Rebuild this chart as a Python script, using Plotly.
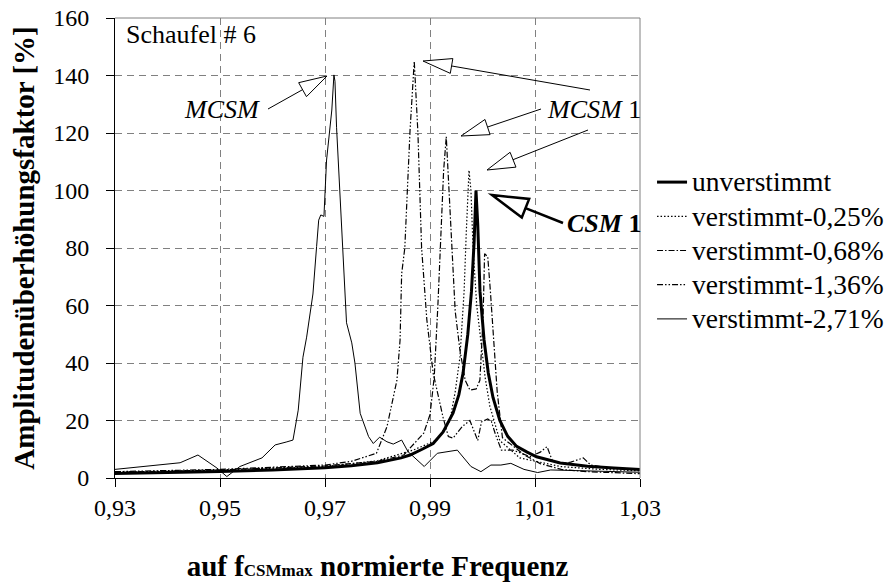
import math
import plotly.graph_objects as go

# Frequenz (auf f_CSMmax normiert) und Amplitudenüberhöhung [%]
x_unv = [0.930, 0.940, 0.950, 0.960, 0.970, 0.975, 0.980, 0.9845, 0.9862, 0.9885, 0.9906,
         0.9925, 0.9944, 0.9955, 0.9963, 0.9972, 0.9979, 0.9984, 0.99876, 0.9991, 0.99952,
         1.0003, 1.0011, 1.0020, 1.0033, 1.0048, 1.0065, 1.0085, 1.0103, 1.0148, 1.020,
         1.025, 1.030]
y_unv = [1.6, 1.9, 2.3, 2.8, 3.6, 4.3, 5.3, 7.0, 8.0, 10.0, 12.0,
         16.0, 22.6, 29.0, 36.5, 50.0, 65.0, 82.0, 100.0, 88.0, 65.0,
         48.0, 36.5, 28.0, 20.0, 14.5, 11.0, 9.0, 7.4, 5.2, 4.1,
         3.5, 3.0]

x_025 = [0.930, 0.950, 0.970, 0.980, 0.9868, 0.9913, 0.9938, 0.9948, 0.9957, 0.9965,
         0.9969, 0.99743, 0.9978, 0.9982, 0.9989, 0.9995, 1.0005, 1.0014, 1.0033, 1.0071,
         1.0148, 1.0224, 1.030]
y_025 = [2.0, 2.8, 4.0, 6.0, 9.7, 13.2, 20.0, 30.0, 42.0, 65.0,
         85.0, 107.0, 100.0, 80.0, 60.0, 50.0, 35.0, 25.0, 13.0, 7.0,
         4.0, 3.0, 2.5]

x_068 = [0.930, 0.950, 0.970, 0.980, 0.9850, 0.9888, 0.9900, 0.9908, 0.9915, 0.9921,
         0.9926, 0.9931, 0.9936, 0.9941, 0.9948, 0.9957, 0.9967, 0.9976, 0.9988, 0.9995,
         1.0001, 1.0004, 1.0010, 1.0015, 1.0022, 1.0028, 1.0038, 1.0058, 1.0080, 1.0110,
         1.0150, 1.0200, 1.0250, 1.030]
y_068 = [2.0, 2.8, 4.2, 5.8, 8.0, 15.6, 22.0, 35.0, 60.0, 85.0,
         107.0, 118.7, 100.0, 80.0, 58.0, 44.5, 34.0, 30.6, 31.0, 34.0,
         55.0, 78.0, 77.0, 65.0, 45.0, 30.0, 14.0, 11.0, 8.0, 5.0,
         3.0, 2.2, 1.8, 1.5]

x_136 = [0.930, 0.950, 0.970, 0.975, 0.9798, 0.9818, 0.9837, 0.9843, 0.9846, 0.9852,
         0.9862, 0.9870, 0.9877, 0.9884, 0.9894, 0.9906, 0.9925, 0.9935, 0.9944, 0.9962,
         0.9976, 0.9983, 0.9991, 0.9998, 1.0010, 1.0017, 1.0025, 1.0036, 1.0058, 1.0091,
         1.0110, 1.0123, 1.0133, 1.0148, 1.0168, 1.0192, 1.0206, 1.0244, 1.030]
y_136 = [2.2, 3.0, 4.5, 5.8, 8.6, 17.8, 34.0, 48.0, 71.0, 80.0,
         121.0, 145.0, 120.0, 80.0, 55.0, 36.5, 21.0, 14.4, 13.9, 18.0,
         20.0, 17.0, 13.0, 19.5, 20.5, 19.6, 15.0, 9.7, 9.7, 7.4,
         9.0, 10.9, 6.0, 5.0, 5.5, 7.0, 4.5, 3.5, 3.0]

x_271 = [0.930, 0.9424, 0.9458, 0.9494, 0.9513, 0.9538, 0.9580, 0.9605, 0.9626, 0.9639,
         0.9649, 0.9658, 0.9665, 0.9677, 0.9684, 0.9688, 0.9692, 0.9698, 0.9703, 0.9713,
         0.9717, 0.9719, 0.9722, 0.9728, 0.9735, 0.9741, 0.9751, 0.9757, 0.9767, 0.9783,
         0.9792, 0.9804, 0.9818, 0.9830, 0.9846, 0.9858, 0.9889, 0.9914, 0.9952, 0.9978,
         0.9997, 1.0016, 1.0035, 1.0054, 1.0079, 1.0105, 1.0130, 1.0224, 1.030]
y_271 = [3.0, 5.3, 8.0, 3.5, 0.5, 4.0, 7.0, 11.5, 12.5, 13.2,
         23.6, 42.0, 49.0, 64.0, 80.5, 89.7, 91.5, 91.0, 110.6, 128.0,
         140.2, 138.0, 122.0, 99.0, 75.8, 54.0, 47.0, 40.0, 22.5, 14.4,
         12.0, 14.2, 12.6, 11.8, 13.2, 9.2, 4.0, 8.6, 9.7, 4.0,
         2.2, 4.5, 4.5, 5.1, 3.0, 1.9, 2.8, 2.5, 2.0]

x_ticks = [0.93, 0.95, 0.97, 0.99, 1.01, 1.03]
y_ticks = [0, 20, 40, 60, 80, 100, 120, 140, 160]

FONT = "Times New Roman, Liberation Serif, Tinos, DejaVu Serif, serif"

def big(name):
    # legend text bigger than the row spacing font
    return "<span style='font-size:27.5px'>" + name + "</span>"

fig = go.Figure()
fig.add_trace(go.Scatter(x=x_unv, y=y_unv, mode="lines", name=big("unverstimmt"),
                         line=dict(color="black", width=3)))
fig.add_trace(go.Scatter(x=x_025, y=y_025, mode="lines", name=big("verstimmt-0,25%"),
                         line=dict(color="black", width=1.2, dash="1.5px,2px")))
fig.add_trace(go.Scatter(x=x_068, y=y_068, mode="lines", name=big("verstimmt-0,68%"),
                         line=dict(color="black", width=1.2, dash="6px,2px,1.5px,2px")))
fig.add_trace(go.Scatter(x=x_136, y=y_136, mode="lines", name=big("verstimmt-1,36%"),
                         line=dict(color="black", width=1.2,
                                   dash="6px,2px,1.5px,2px,1.5px,2px")))
fig.add_trace(go.Scatter(x=x_271, y=y_271, mode="lines", name=big("verstimmt-2,71%"),
                         line=dict(color="black", width=1)))

# plot area in page pixels: x 115..640, y 18..478 (page has 8px body offset)
def px(x):
    return (x - 115) / 525.0

def py(y):
    return (478 - y) / 460.0

shapes = []

def hollow_arrow(x0, y0, x1, y1, hl, hw, w):
    dx, dy = x1 - x0, y1 - y0
    d = math.hypot(dx, dy)
    ux, uy = dx / d, dy / d
    bx, by = x1 - ux * hl, y1 - uy * hl
    c1 = (bx - uy * hw / 2, by + ux * hw / 2)
    c2 = (bx + uy * hw / 2, by - ux * hw / 2)
    shapes.append(dict(type="line", xref="paper", yref="paper",
                       x0=px(x0), y0=py(y0), x1=px(bx), y1=py(by),
                       line=dict(color="black", width=w)))
    path = "M{},{} L{},{} L{},{} Z".format(px(x1), py(y1), px(c1[0]), py(c1[1]),
                                          px(c2[0]), py(c2[1]))
    shapes.append(dict(type="path", xref="paper", yref="paper", path=path,
                       fillcolor="white", line=dict(color="black", width=w)))

hollow_arrow(268, 109, 327, 76, 28, 16, 1)
hollow_arrow(590, 90, 423, 61, 29, 15, 1)
hollow_arrow(541, 109, 461, 136, 28, 16, 1)
hollow_arrow(588, 130, 487, 170, 28, 16, 1)
hollow_arrow(563, 223, 492, 195, 36, 20, 2.5)

# rahmen oben / rechts
shapes.append(dict(type="line", xref="paper", yref="paper", x0=0, y0=1, x1=1, y1=1,
                   line=dict(color="#808080", width=1)))
shapes.append(dict(type="line", xref="paper", yref="paper", x0=1, y0=0, x1=1, y1=1,
                   line=dict(color="#808080", width=1)))

annotations = [
    dict(text="Schaufel # 6", x=px(124), y=py(34), xanchor="left", yanchor="middle",
         font=dict(size=26)),
    dict(text="<i>MCSM</i>", x=px(262), y=py(110), xanchor="right", yanchor="middle",
         font=dict(size=26)),
    dict(text="<i>MCSM</i> 1", x=px(545), y=py(110), xanchor="left", yanchor="middle",
         font=dict(size=26)),
    dict(text="<b><i>CSM</i> 1</b>", x=px(565), y=py(223), xanchor="left", yanchor="middle",
         font=dict(size=26)),
]
for a in annotations:
    a.update(xref="paper", yref="paper", showarrow=False)

fig.update_layout(
    width=895, height=588, autosize=False,
    margin=dict(l=107, r=263, t=10, b=118),
    paper_bgcolor="white", plot_bgcolor="white",
    font=dict(family=FONT, color="black", size=24),
    separators=",.",
    shapes=shapes,
    annotations=annotations,
    legend=dict(xref="container", yref="container", x=0.7196, y=0.7415,
                xanchor="left", yanchor="top",
                font=dict(size=24), itemwidth=30, bgcolor="rgba(0,0,0,0)",
                tracegroupgap=0),
    xaxis=dict(range=[0.93, 1.03], tickvals=x_ticks, tickformat=".2f",
               ticks="outside", ticklen=8, tickcolor="black",
               showline=True, linecolor="black", linewidth=1, automargin=False,
               showgrid=True, gridcolor="#808080", griddash="7px,5px", gridwidth=1,
               zeroline=False, tickfont=dict(size=24), ticklabeloverflow="allow",
               title=dict(text="<b>auf f<span style='font-size:17px'>CSMmax</span> normierte Frequenz</b>",
                          font=dict(size=29), standoff=35)),
    yaxis=dict(range=[0, 160], tickvals=y_ticks,
               ticks="outside", ticklen=8, tickcolor="black",
               showline=True, linecolor="black", linewidth=1, automargin=False,
               showgrid=True, gridcolor="#808080", griddash="7px,5px", gridwidth=1,
               zeroline=False, tickfont=dict(size=24), ticklabelstandoff=12,
               ticklabeloverflow="allow",
               title=dict(text="<b>Amplitudenüberhöhungsfaktor [%]</b>",
                          font=dict(size=29), standoff=14)),
)

fig.write_html("out.html")
